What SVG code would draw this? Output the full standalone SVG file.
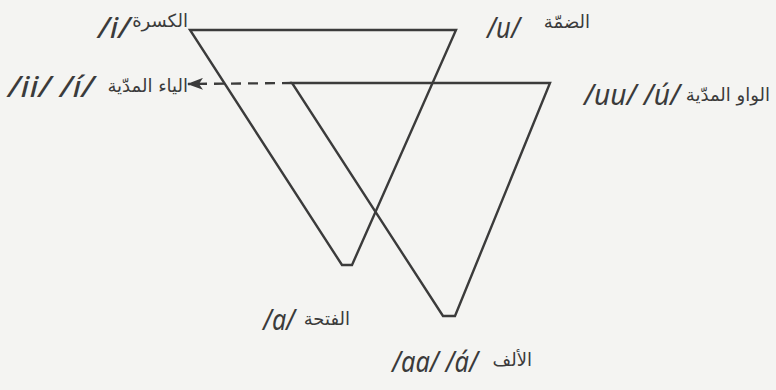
<svg xmlns="http://www.w3.org/2000/svg" width="776" height="390" viewBox="0 0 776 390">
<style>
.edge{fill:none;stroke:#3b3b3b;stroke-width:2.4;stroke-linejoin:miter}
.dash{fill:none;stroke:#3b3b3b;stroke-width:2.4;stroke-dasharray:10 7}
.lat{font-family:"Noto Sans","DejaVu Sans",sans-serif;font-style:italic;font-size:29px;fill:#3b3b3b}
.ar{font-family:"DejaVu Sans",sans-serif;font-size:18px;fill:#3b3b3b}
</style>
<defs>
<marker id="ah" viewBox="0 0 16 12" refX="15" refY="6" markerWidth="16" markerHeight="12" markerUnits="userSpaceOnUse" orient="auto">
<path d="M0,0 L16,6 L0,12 L4,6 Z" fill="#3b3b3b"/>
</marker>
</defs>
<rect width="776" height="390" fill="#f4f4f2"/>
<g id="connectors">
<polygon class="edge" points="190,30 456,30 352,265 342,265"/>
<polygon class="edge" points="292,83 550,83 455,316 443,316"/>
<line class="dash" x1="292" y1="83" x2="188" y2="84" marker-end="url(#ah)"/>
</g>
<g id="kasra">
<text class="lat" x="98" y="38" textLength="32" lengthAdjust="spacingAndGlyphs">/i/</text>
<text class="ar" x="188" y="27" text-anchor="end">الكسرة</text>
</g>
<g id="damma">
<text class="lat" x="487" y="38" textLength="33" lengthAdjust="spacingAndGlyphs">/u/</text>
<text class="ar" x="590" y="28" text-anchor="end">الضمّة</text>
</g>
<g id="yaa">
<text class="lat" x="8" y="97" textLength="86" lengthAdjust="spacingAndGlyphs">/ii/ /í/</text>
<text class="ar" x="188" y="92" text-anchor="end">الياء المدّية</text>
</g>
<g id="waw">
<text class="lat" x="584" y="105" textLength="96" lengthAdjust="spacingAndGlyphs">/uu/ /ú/</text>
<text class="ar" x="770" y="101" text-anchor="end">الواو المدّية</text>
</g>
<g id="fatha">
<text class="lat" x="263" y="330" textLength="32" lengthAdjust="spacingAndGlyphs">/a/</text>
<text class="ar" x="350" y="325" text-anchor="end">الفتحة</text>
</g>
<g id="alif">
<text class="lat" x="392" y="372" textLength="86" lengthAdjust="spacingAndGlyphs">/aa/ /á/</text>
<text class="ar" x="532" y="366" text-anchor="end">الألف</text>
</g>
</svg>
